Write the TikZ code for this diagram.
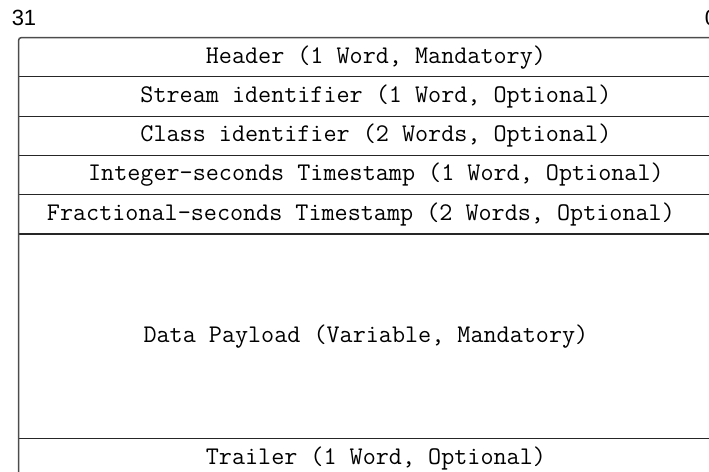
\documentclass[tikz,border=0pt]{standalone}
\usepackage{fontspec}
\setsansfont{Liberation Sans}
\usetikzlibrary{positioning}
\tikzset{
  rowbox/.style={minimum width=357pt, minimum height=19.25pt,
    inner sep=0pt, font=\fontsize{12.7}{15}\selectfont\ttfamily},
  fieldtext/.style={inner sep=0pt, font=\fontsize{12.7}{15}\selectfont\ttfamily},
  sepline/.style={line width=0.6pt, black!85},
  frameline/.style={line width=0.75pt, black!70, rounded corners=1.5pt},
  bitlabel/.style={font=\fontsize{11}{13}\selectfont\sffamily, inner sep=0pt},
}
\begin{document}
\begin{tikzpicture}[x=0.5pt, y=-0.5pt, node distance=0pt]
  \useasboundingbox (0,0) rectangle (709,472);
  \clip (0,0) rectangle (709,472);

  % Bit numbers
  \node[bitlabel] (msb) at (24,17.5) {31};
  \node[bitlabel] (lsb) at (711,17.5) {0};

  % Packet fields
  \node[rowbox, below right] (hdr) at (18.5,37.5)
    {Header (1 Word, Mandatory)};
  \node[rowbox, below=of hdr] (sid)
    {Stream identifier (1 Word, Optional)};
  \node[rowbox, below=of sid] (cid)
    {Class identifier (2 Words, Optional)};
  \node[rowbox, below=of cid] (ints)
    {Integer-seconds Timestamp (1 Word, Optional)};
  \node[rowbox, below=of ints] (fracs) {};
  \node[fieldtext, xshift=-7.5pt] (fracstext) at (fracs.center)
    {Fractional-seconds Timestamp (2 Words, Optional)};
  \node[rowbox, below=of fracs, minimum height=102pt] (pay) {};
  \node[fieldtext, xshift=-5pt] (paytext) at (pay.center)
    {Data Payload (Variable, Mandatory)};
  \node[rowbox, below=of pay, minimum height=19.5pt] (trl)
    {Trailer (1 Word, Optional)};

  % Separators
  \foreach \r in {hdr,sid,cid,ints,fracs,pay}
    \draw[sepline] (\r.south west) -- (\r.south east);

  % Frame
  \draw[frameline] (hdr.north west) rectangle (trl.south east);
\end{tikzpicture}
\end{document}
